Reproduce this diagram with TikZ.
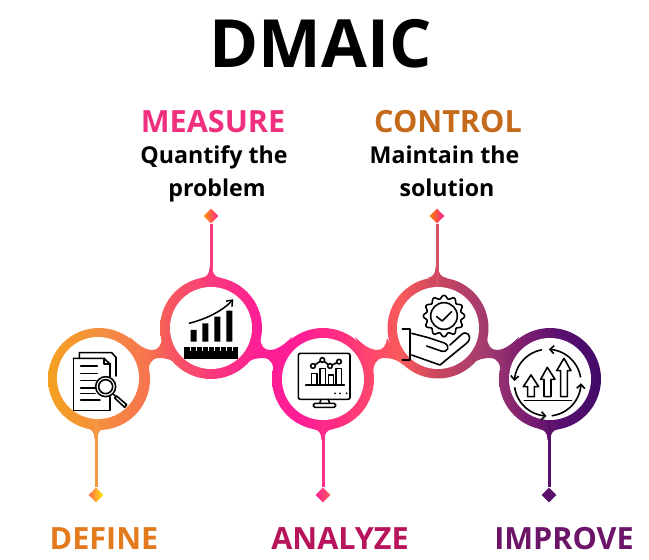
\documentclass[tikz,border=0pt]{standalone}
\usepackage{fontspec}
\setmainfont{Open Sans}
\usetikzlibrary{shapes.geometric,arrows.meta}
\definecolor{F5A020}{HTML}{F5A020}\definecolor{F58F40}{HTML}{F58F40}\definecolor{F7724F}{HTML}{F7724F}
\definecolor{F75C5C}{HTML}{F75C5C}\definecolor{FA3A7C}{HTML}{FA3A7C}\definecolor{FF1E96}{HTML}{FF1E96}
\definecolor{FF2E80}{HTML}{FF2E80}\definecolor{FF4A6A}{HTML}{FF4A6A}\definecolor{F95A5A}{HTML}{F95A5A}
\definecolor{C8455F}{HTML}{C8455F}\definecolor{A03A70}{HTML}{A03A70}\definecolor{80206F}{HTML}{80206F}
\definecolor{5A1070}{HTML}{5A1070}\definecolor{420A68}{HTML}{420A68}\definecolor{FF6A50}{HTML}{FF6A50}
\definecolor{txDefine}{HTML}{E47A1E}\definecolor{txMeasure}{HTML}{F0307E}\definecolor{txAnalyze}{HTML}{B8145C}
\definecolor{txControl}{HTML}{C46A1A}\definecolor{txImprove}{HTML}{6C1468}
\definecolor{stDefine}{HTML}{F59A45}\definecolor{stMeasure}{HTML}{F93A80}\definecolor{stAnalyze}{HTML}{FF2E8A}
\definecolor{stControl}{HTML}{D65068}\definecolor{stImprove}{HTML}{5A0F6B}
\pgfdeclarehorizontalshading{ribbonshade}{100bp}{
 color(0bp)=(F5A020); color(28.7bp)=(F5A020); color(32.7bp)=(F58F40); color(36.6bp)=(F7724F);
 color(37.7bp)=(F75C5C); color(41.3bp)=(FA3A7C); color(45bp)=(FF1E96); color(48.1bp)=(FF1E96);
 color(51.2bp)=(FF2E80); color(53.9bp)=(FF4A6A); color(55.8bp)=(F95A5A); color(58.9bp)=(C8455F);
 color(62.6bp)=(A03A70); color(65.1bp)=(80206F); color(68.1bp)=(5A1070); color(71.2bp)=(420A68); color(100bp)=(420A68)}
\newcommand\ribbonpart[1]{\begin{scope}\clip #1; \shade[shading=ribbonshade] (0,0) rectangle (649,560);\end{scope}}
\newcommand\neckpath[2]{({#1+#2*130},337) .. controls ({#1+#2*140},347) and ({#1+#2*147},350) .. ({#1+#2*152},350) .. controls ({#1+#2*158},350) and ({#1+#2*161},346) .. ({#1+#2*162},338) -- ({#1+#2*178},365) .. controls ({#1+#2*172},359) and ({#1+#2*165},358) .. ({#1+#2*158},358) .. controls ({#1+#2*152},358) and ({#1+#2*148},364) .. ({#1+#2*148},375) -- cycle}
\newcommand\flarepath[3]{({#1-10},{#2}) .. controls ({#1-4},{#2+#3*1}) and ({#1-1.5},{#2+#3*4}) .. ({#1-1.5},{#2+#3*11}) -- ({#1+1.5},{#2+#3*11}) .. controls ({#1+1.5},{#2+#3*4}) and ({#1+4},{#2+#3*1}) .. ({#1+10},{#2}) -- cycle}
\tikzset{
 hole/.style={circle,fill=white,minimum size=82pt,inner sep=0pt},
 tip/.style={diamond,minimum size=15pt,inner sep=0pt,aspect=1},
 stem/.style={line width=3pt},
 head/.style={font=\bfseries\fontsize{30.6}{30}\selectfont,anchor=base,inner sep=0pt},
 body/.style={font=\bfseries\fontsize{23.2}{24}\selectfont,anchor=base,inner sep=0pt,text=black},
 icon/.style={line width=1.6pt,black,line cap=round,line join=round},
 px/.style={x=0.3333pt,y=-0.3333pt}
}
\begin{document}
\begin{tikzpicture}[x=1pt,y=-1pt]
\useasboundingbox (0,0) rectangle (649,560);
% ribbon
\ribbonpart{(99,379) circle[radius=51]}
\ribbonpart{(211,328) circle[radius=51]}
\ribbonpart{(323,379) circle[radius=51]}
\ribbonpart{(438,328) circle[radius=50.5]}
\ribbonpart{(550,379) circle[radius=51]}
\ribbonpart{\neckpath{0}{1}}
\ribbonpart{\neckpath{422}{-1}}
\ribbonpart{\neckpath{225}{1}}
\ribbonpart{\neckpath{649}{-1}}
\ribbonpart{\flarepath{96}{428}{1}}
\ribbonpart{\flarepath{211}{278}{-1}}
\ribbonpart{\flarepath{323}{429}{1}}
\ribbonpart{\flarepath{437}{278}{-1}}
\ribbonpart{\flarepath{549}{429}{1}}
% holes
\node[hole] (nDefine) at (98,378) {};
\node[hole] (nMeasure) at (211,328) {};
\node[hole] (nAnalyze) at (323,379) {};
\node[hole] (nControl) at (438,328) {};
\node[hole] (nImprove) at (550,379) {};
% diamonds
\node[tip,left color=FF6A50,right color=yellow!85!orange] (dDefine) at (96,495) {};
\node[tip,left color=orange!80!yellow,right color=FF1E96] (dMeasure) at (211,216) {};
\node[tip,left color=FF1E96,right color=F75C5C] (dAnalyze) at (323,495) {};
\node[tip,left color=orange,right color=FF1E96] (dControl) at (437,216) {};
\node[tip,fill=stImprove] (dImprove) at (549,495) {};
% stems
\draw[stem,stDefine] (dDefine.north) -- (dDefine.north |- nDefine.south);
\draw[stem,stMeasure] (dMeasure.south) -- (dMeasure.south |- nMeasure.north);
\draw[stem,stAnalyze] (dAnalyze.north) -- (dAnalyze.north |- nAnalyze.south);
\draw[stem,stControl] (dControl.south) -- (dControl.south |- nControl.north);
\draw[stem,stImprove] (dImprove.north) -- (dImprove.north |- nImprove.south);
% text
\node[font=\bfseries\fontsize{66.5}{66}\selectfont,anchor=base,inner sep=0pt] (tTitle) at (320.5,67) {DMAIC};
\node[head,text=txMeasure] (tMeasure) at (213,132) {MEASURE};
\node[body] (bMeasureA) at (214,163) {Quantify the};
\node[body] (bMeasureB) at (217,196) {problem};
\node[head,text=txControl] (tControl) at (448,132) {CONTROL};
\node[body] (bControlA) at (444.5,163) {Maintain the};
\node[body] (bControlB) at (447,196) {solution};
\node[head,text=txDefine] (tDefine) at (104,549) {DEFINE};
\node[head,text=txAnalyze] (tAnalyze) at (340,549) {ANALYZE};
\node[head,text=txImprove] (tImprove) at (564,549) {IMPROVE};
% icon: document
\begin{scope}[shift={(60,340)},px,icon]
 \draw (58,55) -- (58,38) -- (155,38) -- (168,52) -- (168,108);
 \draw (40,55) -- (132,55) -- (150,72) -- (150,112);
 \draw (132,55) -- (132,72) -- (150,72);
 \draw (150,170) -- (150,212) -- (40,212) -- (40,55);
 \foreach \yy/\xx in {78/112,100/112,122/108,144/105,160/105,180/120} \draw (62,\yy) -- (\xx,\yy);
 \fill[white] (137,140) circle[radius=31];
 \draw (137,140) circle[radius=30] (137,140) circle[radius=21];
 \draw (160,162) -- (170,172);
 \draw[fill=white] (170,168) -- (200,194) -- (194,202) -- (164,174) -- cycle;
\end{scope}
% icon: chart
\begin{scope}[shift={(175,290)},px]
 \draw[line width=1.5pt,-{Straight Barb[length=5pt,width=8pt]}] (42,100) .. controls (90,88) and (140,65) .. (175,28);
 \fill (47,120) rectangle (65,155) (82,100) rectangle (100,155) (118,80) rectangle (136,155) (154,62) rectangle (172,155);
 \fill (28,172) rectangle (188,207);
 \foreach \xx in {46,64,82,100,118,136,154,172} \fill[white] (\xx-1.5,170) rectangle (\xx+1.5,184);
\end{scope}
% icon: monitor
\begin{scope}[shift={(285,340)},px,icon]
 \draw[rounded corners=2pt] (40,40) rectangle (195,178);
 \draw (108,178) -- (104,190) (130,178) -- (134,190);
 \draw[rounded corners=1.5pt] (85,190) rectangle (152,202);
 \draw (80,135) -- (80,100) -- (96,100) -- (96,135) (105,135) -- (105,85) -- (122,85) -- (122,135) (130,135) -- (130,105) -- (145,105) -- (145,135) (153,135) -- (153,85) -- (170,85) -- (170,135);
 \draw (62,135) -- (178,135);
 \draw (84,78) -- (112,60) -- (135,78) -- (162,65);
 \foreach \p in {(84,78),(112,60),(135,78),(162,65)} \draw[fill=white] \p circle[radius=7];
 \foreach \xx in {150,165,185} \fill (\xx,160) circle[radius=3];
\end{scope}
% icon: control
\begin{scope}[shift={(395,285)},px,icon]
 \draw plot[domain=0:360,samples=145,smooth] ({147+(57+5*cos(12*\x))*cos(\x)},{93+(57+5*cos(12*\x))*sin(\x)});
 \draw (147,93) circle[radius=40];
 \draw (125,95) -- (142,108) -- (170,80);
 \draw (22,132) -- (45,132) -- (45,225) -- (22,225);
 \draw (50,145) -- (100,158) -- (148,174) .. controls (168,184) and (158,204) .. (138,198) -- (95,183);
 \draw (50,210) -- (135,240) -- (218,172) .. controls (234,152) and (214,134) .. (198,150) -- (165,180);
\end{scope}
% icon: improve
\begin{scope}[shift={(505,340)},px]
 \begin{scope}[line width=1.6pt,-{Straight Barb[length=4pt,width=8pt]}]
  \draw plot[domain=-100:-177,samples=20,smooth] ({128+100*cos(\x)},{128+100*sin(\x)});
  \draw plot[domain=-9:-88,samples=20,smooth] ({128+100*cos(\x)},{128+100*sin(\x)});
  \draw plot[domain=172:92,samples=20,smooth] ({128+100*cos(\x)},{128+100*sin(\x)});
  \draw plot[domain=83:1,samples=20,smooth] ({128+100*cos(\x)},{128+100*sin(\x)});
 \end{scope}
 \begin{scope}[icon]
  \draw (68,170) -- (68,140) -- (55,140) -- (78,105) -- (101,140) -- (88,140) -- (88,170) -- cycle;
  \draw (117,170) -- (117,118) -- (107,118) -- (127,82) -- (150,118) -- (138,118) -- (138,170) -- cycle;
  \draw (167,170) -- (167,92) -- (155,92) -- (177,55) -- (198,92) -- (187,92) -- (187,170) -- cycle;
  \draw (58,182) -- (200,182);
 \end{scope}
\end{scope}
\end{tikzpicture}
\end{document}
